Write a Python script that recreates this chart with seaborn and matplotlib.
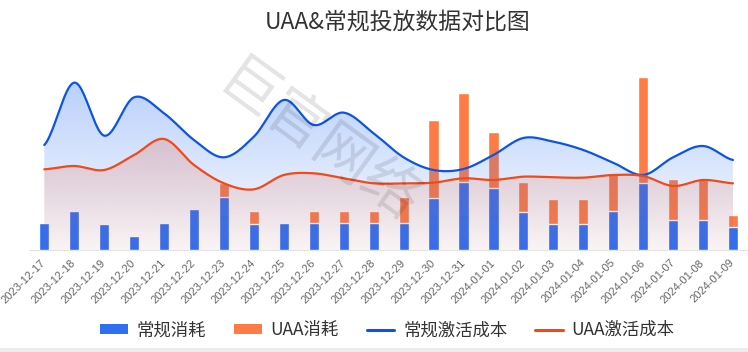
import numpy as np
import pandas as pd
import seaborn as sns
import matplotlib
matplotlib.use('Agg')
import matplotlib.pyplot as plt
from matplotlib.patches import Polygon, Patch, Rectangle
from matplotlib.lines import Line2D

# 数据
dates = ['2023-12-17', '2023-12-18', '2023-12-19', '2023-12-20', '2023-12-21', '2023-12-22',
         '2023-12-23', '2023-12-24', '2023-12-25', '2023-12-26', '2023-12-27', '2023-12-28',
         '2023-12-29', '2023-12-30', '2023-12-31', '2024-01-01', '2024-01-02', '2024-01-03',
         '2024-01-04', '2024-01-05', '2024-01-06', '2024-01-07', '2024-01-08', '2024-01-09']
regular_spend = [2700, 3900, 2600, 1400, 2700, 4100, 5300, 2600, 2700, 2700, 2700, 2700,
                 2700, 5200, 6800, 6200, 3800, 2600, 2600, 3900, 6700, 3000, 3000, 2300]
uaa_spend = [0, 0, 0, 0, 0, 0, 1400, 1300, 0, 1200, 1200, 1200,
             2600, 7800, 8900, 5600, 3000, 2500, 2500, 3800, 10600, 4100, 4100, 1200]
regular_cost = [31.5, 50.2, 34.3, 45.8, 41.0, 33.0, 27.8, 34.0, 45.0, 37.5, 41.2, 35.0,
                27.8, 24.0, 24.3, 28.5, 33.6, 32.5, 30.0, 26.2, 22.5, 27.8, 31.2, 27.0]
uaa_cost = [24.2, 25.2, 24.0, 28.5, 33.3, 25.5, 20.0, 18.2, 22.5, 23.0, 21.5, 20.0,
            20.0, 20.2, 21.5, 21.0, 22.0, 21.8, 21.7, 22.5, 22.2, 19.2, 21.0, 20.0]

BAR_BLUE = '#2f6ff2'
BAR_ORANGE = '#ff7b45'
LINE_BLUE = '#0d55e0'
LINE_RED = '#f04a18'

sns.set_style('white')
plt.rcParams['font.family'] = ['Noto Sans CJK SC', 'DejaVu Sans']

df = pd.DataFrame({'date': dates, 'regular': regular_spend, 'uaa': uaa_spend})
df['total'] = df['regular'] + df['uaa']


def smooth_curve(ys, n=24):
    # 平滑曲线 (Catmull-Rom)
    ys = np.asarray(ys, dtype=float)
    xs_out, ys_out = [], []
    for i in range(len(ys) - 1):
        p0 = ys[i - 1] if i > 0 else ys[i]
        p1, p2 = ys[i], ys[i + 1]
        p3 = ys[i + 2] if i + 2 < len(ys) else ys[i + 1]
        m1, m2 = (p2 - p0) / 2, (p3 - p1) / 2
        t = np.linspace(0, 1, n, endpoint=False)
        h00 = 2 * t**3 - 3 * t**2 + 1
        h10 = t**3 - 2 * t**2 + t
        h01 = -2 * t**3 + 3 * t**2
        h11 = t**3 - t**2
        ys_out.append(h00 * p1 + h10 * m1 + h01 * p2 + h11 * m2)
        xs_out.append(i + t)
    xs_out.append([len(ys) - 1])
    ys_out.append([ys[-1]])
    return np.concatenate(xs_out), np.concatenate(ys_out)


fig = plt.figure(figsize=(7.48, 3.52), dpi=100)
ax = fig.add_axes([0.0392, 0.2898, 0.9607, 0.5114])

sns.barplot(data=df, x='date', y='total', color=BAR_ORANGE, saturation=1, width=0.34,
            errorbar=None, ax=ax, zorder=2)
sns.barplot(data=df, x='date', y='regular', color=BAR_BLUE, saturation=1, width=0.34,
            errorbar=None, ax=ax, zorder=3)
ax.set_ylim(0, 18000)
ax.set_xlim(-0.5, len(dates) - 0.5)
ax.set_xlabel('')
ax.set_ylabel('')
ax.set_yticks([])
for s in ['top', 'right', 'left']:
    ax.spines[s].set_visible(False)
ax.spines['bottom'].set_color('#e3e3e3')
ax.set_xticks(range(len(dates)))
ax.set_xticklabels(dates, rotation=45, ha='right', va='center', rotation_mode='anchor',
                   fontsize=8, color='#666666', family=['Liberation Sans'])
ax.tick_params(axis='x', which='major', length=0, pad=8)
ax.set_xticks(np.arange(-0.5, len(dates), 1), minor=True)
ax.tick_params(axis='x', which='minor', length=4, color='#e3e3e3', width=1)

# 激活成本 (次坐标轴)
ax2 = ax.twinx()
ax2.set_ylim(0, 54)
ax2.set_xlim(-0.5, len(dates) - 0.5)
ax2.axis('off')


def gradient_area(axis, ys, rgb, a_bottom, a_top, z):
    xs, yy = smooth_curve(ys)
    grad = np.linspace(a_bottom, a_top, 256)
    img = np.zeros((256, 1, 4))
    img[:, 0, :3] = np.array(matplotlib.colors.to_rgb(rgb))
    img[:, 0, 3] = grad
    im = axis.imshow(img, extent=(-0.5, len(ys) - 0.5, 0, 54), origin='lower',
                     aspect='auto', zorder=z, interpolation='bilinear')
    verts = np.column_stack([np.r_[xs, xs[-1], xs[0]], np.r_[yy, 0, 0]])
    poly = Polygon(verts, closed=True, facecolor='none', edgecolor='none')
    axis.add_patch(poly)
    im.set_clip_path(poly)
    return xs, yy


xb, yb = gradient_area(ax2, regular_cost, '#3b7bf5', 0.02, 0.38, 1)
xr, yr = gradient_area(ax2, uaa_cost, '#f05a30', 0.05, 0.34, 2)
ax2.plot(xb, yb, color=LINE_BLUE, lw=1.6, zorder=4)
ax2.plot(xr, yr, color=LINE_RED, lw=1.6, zorder=4)
ax2.set_xlim(-0.5, len(dates) - 0.5)
ax2.set_ylim(0, 54)

# 标题
fig.text(0.531, 0.937, 'UAA&常规投放数据对比图', ha='center', va='center',
         fontsize=16.5, color='#333333')

# 水印
fig.text(0.425, 0.59, '巨官网络', ha='center', va='center', fontsize=42, rotation=-36,
         color='#000000', alpha=0.11)

# 图例
handles = [Patch(facecolor=BAR_BLUE, edgecolor='none'),
           Patch(facecolor=BAR_ORANGE, edgecolor='none'),
           Line2D([], [], color=LINE_BLUE, lw=2.2),
           Line2D([], [], color=LINE_RED, lw=2.2)]
labels = ['常规消耗', 'UAA消耗', '常规激活成本', 'UAA激活成本']
fig.legend(handles, labels, loc='center', bbox_to_anchor=(0.518, 0.062), ncol=4,
           frameon=False, fontsize=12.5, handlelength=1.6, handleheight=0.45,
           handletextpad=0.5, columnspacing=1.6, labelcolor='#333333')

fig.patches.append(Rectangle((0, 0), 1, 4 / 352, transform=fig.transFigure,
                             facecolor='#ececec', edgecolor='none'))

fig.savefig('out.png', dpi=100)
